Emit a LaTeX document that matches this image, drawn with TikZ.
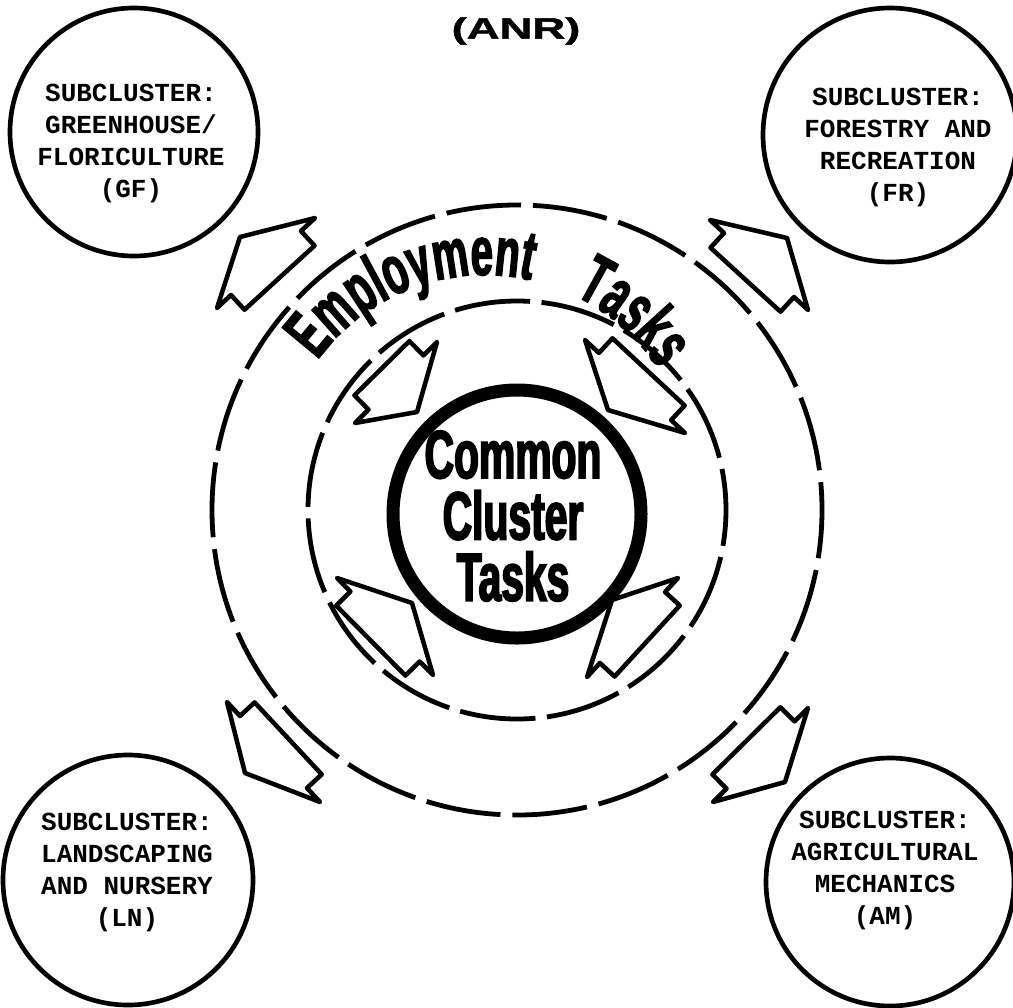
\documentclass[tikz,border=0pt]{standalone}
\usepackage{fontspec}
\usetikzlibrary{decorations.text}

\newfontfamily\typewriter{Liberation Mono}
\newfontfamily\bannerfont[FakeStretch=0.58,FakeBold=2]{Liberation Sans Bold}
\newfontfamily\corefont[FakeStretch=0.6,FakeBold=2.5]{Liberation Sans Bold}
\newfontfamily\titlefont[FakeStretch=1.55,FakeBold=1.5]{Liberation Sans Bold}

\tikzset{every picture/.style={line width=3.5pt}}
\tikzset{
  subtext/.style={font=\typewriter\bfseries\fontsize{19.5}{24}\selectfont, align=center, inner sep=0.75pt},
  ring/.style={line width=3.6pt},
  fatarrow/.style={line width=3.4pt, line join=round},
}

\begin{document}
\begin{tikzpicture}[x=0.75pt,y=0.75pt,yscale=-1,xscale=1]
    \useasboundingbox (0,0) rectangle (1013,1007);
    % Title
    \node[font=\titlefont\fontsize{22}{22}\selectfont, inner sep=0.75pt] (title) at (516,31) {(ANR)};
    %Dashed rings
    \draw[ring, dash pattern=on 56.3pt off 9pt, dash phase=20pt] (517,510) circle[radius=305];
    \draw[ring, dash pattern=on 57pt off 8.6pt, dash phase=30pt] (517,510) circle[radius=209];
    %Core circle
    \draw[line width=9.75pt] (517,514) circle[radius=124];
    \node[font=\corefont\fontsize{51}{46}\selectfont, align=center, inner sep=0pt] (core) at (513,516) {Common\\Cluster\\Tasks};
    %Curved banner text
    \path[decorate, decoration={text along path, text={|\bannerfont\fontsize{52}{52}\selectfont|Employment}}]
        (485,482) ++(-144:207) arc[start angle=-144, end angle=-65, radius=207];
    \path[decorate, decoration={text along path, text={|\bannerfont\fontsize{52}{52}\selectfont|Tasks}}]
        (485,482) ++(-64.5:207) arc[start angle=-64.5, end angle=-10, radius=207];
    %Subcluster circles
    \draw (134,132) circle[radius=124];
    \draw (890,135) circle[radius=127];
    \draw (128,880) circle[radius=125];
    \draw (890,882) circle[radius=124];
    % Text Node
    \node[subtext] (gf) at (131,143) {SUBCLUSTER:\\GREENHOUSE/\\FLORICULTURE\\(GF)};
    % Text Node
    \node[subtext] (fr) at (898,147) {SUBCLUSTER:\\FORESTRY AND\\RECREATION\\(FR)};
    % Text Node
    \node[subtext] (ln) at (127,872) {SUBCLUSTER:\\LANDSCAPING\\AND NURSERY\\(LN)};
    % Text Node
    \node[subtext] (am) at (885,870) {SUBCLUSTER:\\AGRICULTURAL\\MECHANICS\\(AM)};
    %Outer arrows
    \draw[fatarrow] (240,237) -- (315,218) -- (301,231) -- (314.5,245.7) -- (244.5,309.7) -- (231,295) -- (217,308) -- cycle;
    \draw[fatarrow] (787,238) -- (710,220) -- (724,233) -- (710.5,247.7) -- (780.5,311.7) -- (794,297) -- (808,310) -- cycle;
    \draw[fatarrow] (245,773) -- (227,702) -- (240,716) -- (254.6,702.4) -- (321.7,774.4) -- (307,788) -- (320,802) -- cycle;
    \draw[fatarrow] (785,782) -- (808,708) -- (794.5,721.4) -- (780.4,707.2) -- (712.4,774.4) -- (726.5,788.6) -- (713,802) -- cycle;
    %Inner arrows
    \draw[fatarrow] (417,412) -- (437,342) -- (423.5,355.4) -- (409.4,341.1) -- (354.4,395.3) -- (368.5,409.6) -- (355,423) -- cycle;
    \draw[fatarrow] (608,410) -- (585,340) -- (598.9,352.9) -- (612.5,338.3) -- (684.7,405.5) -- (671.1,420.1) -- (685,433) -- cycle;
    \draw[fatarrow] (412,603) -- (337,578) -- (350.4,591.5) -- (336.2,605.6) -- (405.4,675.6) -- (419.6,661.5) -- (433,675) -- cycle;
    \draw[fatarrow] (612,600) -- (678,578) -- (665.1,592) -- (679.8,605.5) -- (614.6,676.5) -- (599.9,663) -- (587,677) -- cycle;
\end{tikzpicture}
\end{document}
